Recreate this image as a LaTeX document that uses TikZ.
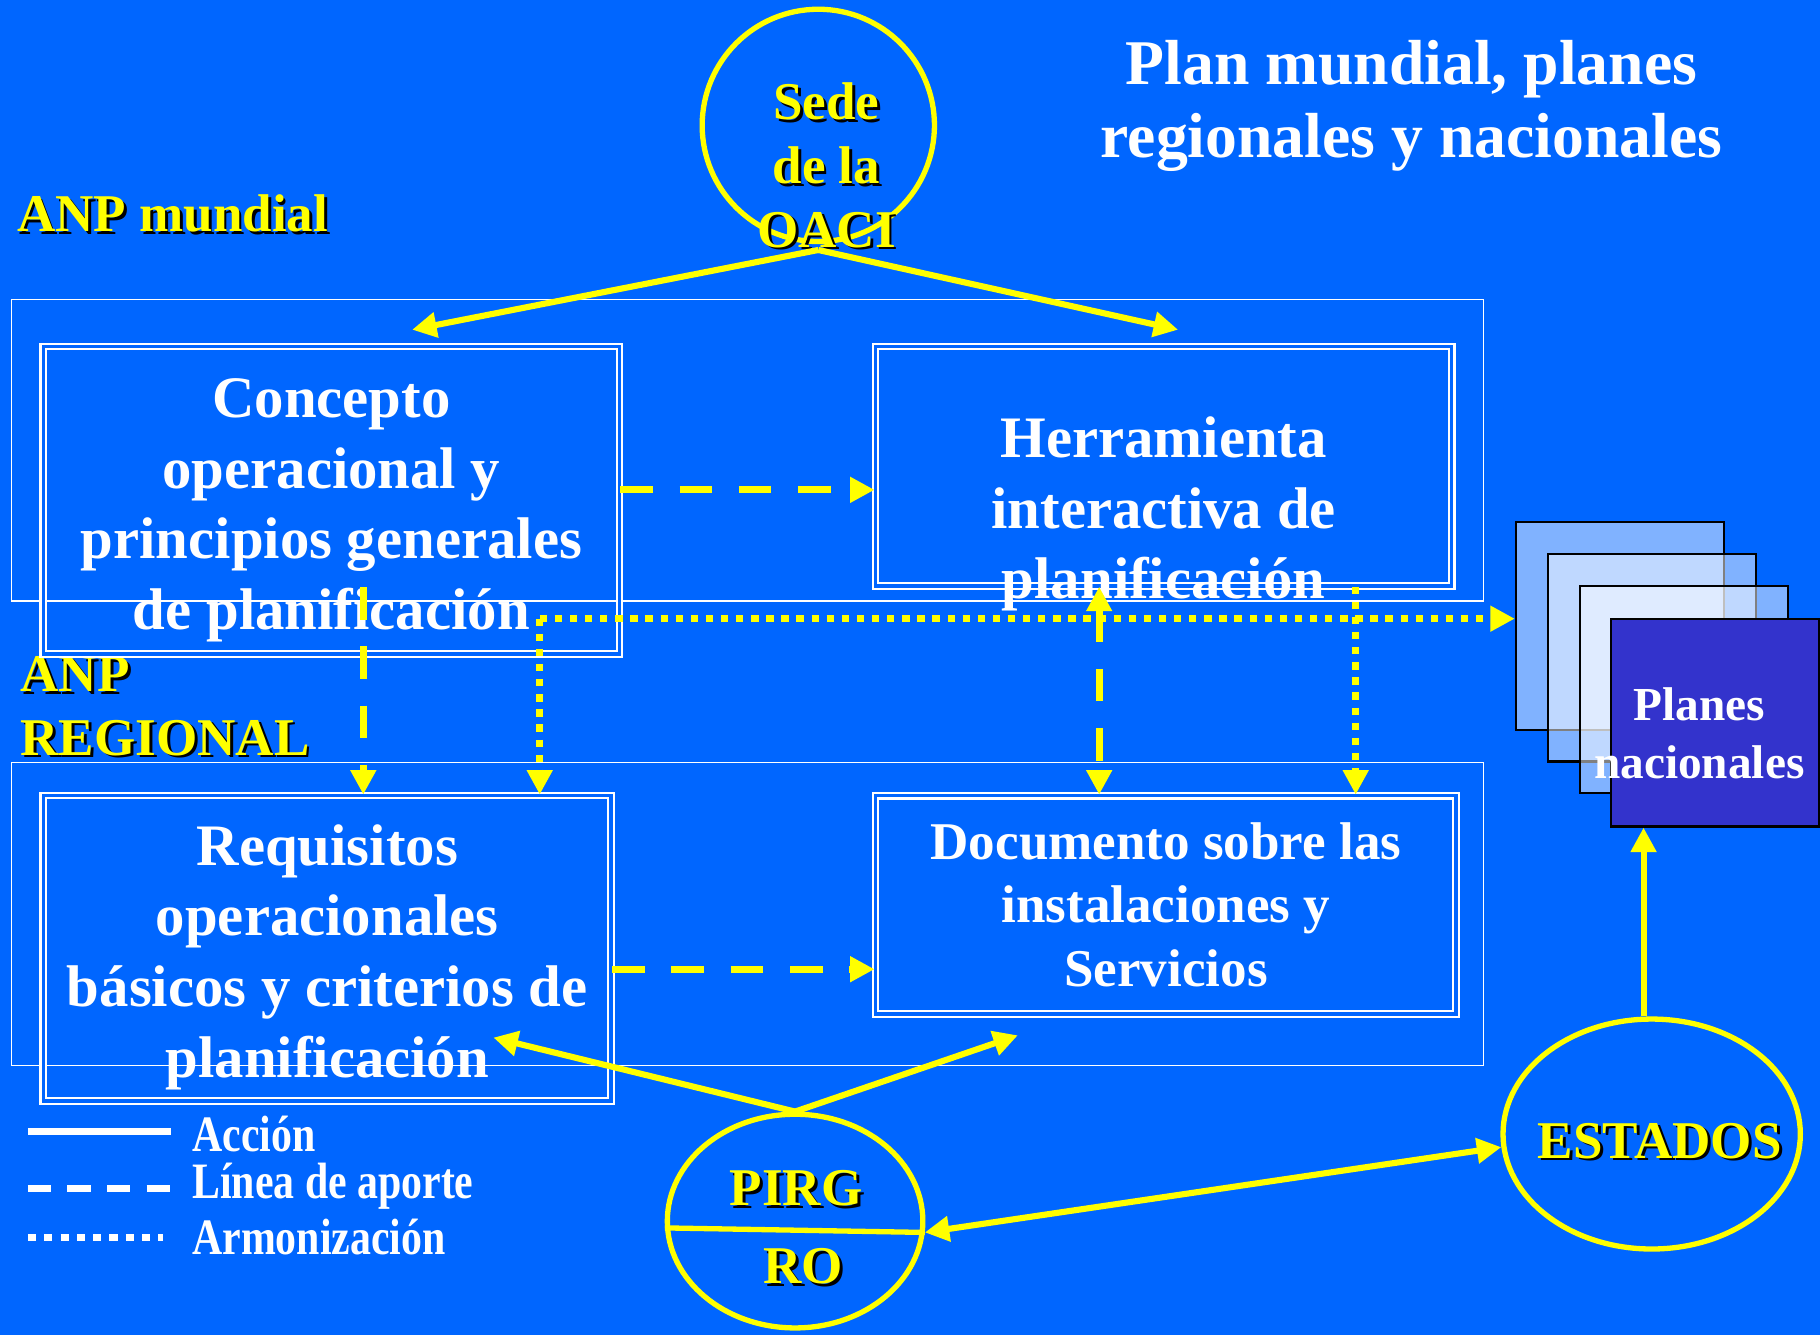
\documentclass[tikz,border=0pt]{standalone}
\usepackage{fontspec}
\setmainfont{Liberation Serif}
\usepackage{graphicx}
\usepackage{tikz}
\usetikzlibrary{positioning,arrows.meta,shapes.geometric,calc}
\definecolor{colorbg}    {RGB}{0  ,102,255}
\definecolor{coloryellow}{RGB}{255,255,0  }
\definecolor{colorplan}  {RGB}{51 ,51 ,204}
\newcommand{\shad}[1]{\makebox[0pt][l]{\kern0.7pt\raisebox{-0.7pt}{\color{black}#1}}#1}

\begin{document}
\begin{tikzpicture}[
    x=0.01cm, y=-0.01cm,
    >={Triangle[length=6pt,width=6pt]},
    boxtxt/.style={text=white,font={\fontsize{14.4}{17.3}\selectfont\bfseries},align=center,inner sep=0pt},
    smalltxt/.style={text=white,font={\fontsize{13}{15.6}\selectfont\bfseries},align=center,inner sep=0pt},
    ytxt/.style={text=coloryellow,font={\fontsize{13}{15.6}\selectfont\bfseries},inner sep=0pt},
    legtxt/.style={text=white,font={\fontsize{12.5}{15}\selectfont\bfseries},anchor=west,inner sep=0pt},
    dblbox/.style={draw=white,double=colorbg,double distance=0.9pt,line width=0.5pt,inner sep=0pt},
    ring/.style={draw=coloryellow,line width=1.3pt,inner sep=0pt},
    sheet/.style={draw=black,line width=0.5pt,fill=white,fill opacity=0.5,minimum size=1.79cm,inner sep=0pt},
    outerframe/.style={draw=white,line width=0.4pt},
    actline/.style={draw=coloryellow,line width=1.5pt},
    feedline/.style={draw=coloryellow,line width=1.7pt,dash pattern=on 8pt off 6.5pt},
    harmline/.style={draw=coloryellow,line width=1.7pt,dash pattern=on 1.8pt off 1.9pt},
    legline/.style={draw=white,line width=1.6pt},
]
    \useasboundingbox (0,0) rectangle (1568,1150);
    \fill[colorbg] (0,0) rectangle (1568,1150);

    % Frames
    \draw[outerframe] (10,258) rectangle (1278,518);
    \draw[outerframe] (10,657) rectangle (1278,918);

    % Titles
    \node[text=white,font={\fontsize{15.6}{17.9}\selectfont\bfseries},align=center] (title) at (1216,91.5) {Plan mundial, planes\\regionales y nacionales};
    \node[ytxt,anchor=west] (anpmundial) at (14,185) {\shad{ANP mundial}};
    \node[ytxt,anchor=west,align=left] (anpregional) at (17,609.5) {\shad{ANP}\\\shad{REGIONAL}};

    % Boxes
    \node[dblbox,minimum width=4.96cm,minimum height=2.65cm] (concepto) at (285.5,431) {};
    \node[boxtxt] (conceptotxt) at ([yshift=-0.085cm]concepto.center) {Concepto\\operacional y\\principios generales\\de planificación};
    \node[dblbox,minimum width=4.96cm,minimum height=2.06cm] (herramienta) at (1002.5,401.5) {};
    \node[boxtxt] (herramientatxt) at ([yshift=-0.415cm]herramienta.center) {Herramienta\\interactiva de\\planificación};
    \node[dblbox,minimum width=4.89cm,minimum height=2.63cm] (requisitos) at (282,817) {};
    \node[boxtxt] (requisitostxt) at ([yshift=-0.075cm]requisitos.center) {Requisitos\\operacionales\\básicos y criterios de\\planificación};
    \node[dblbox,smalltxt,minimum width=5cm,minimum height=1.88cm] (documento) at (1004.5,779.5) {Documento sobre las\\instalaciones y\\Servicios};

    % Circles
    \node[ring,circle,minimum size=2cm] (sede) at (705,108) {};
    \node[ytxt,align=center] (sedetxt) at ([xshift=0.07cm,yshift=-0.355cm]sede.center) {\shad{Sede}\\\shad{de la}\\\shad{OACI}};
    \node[ring,ellipse,minimum width=2.2cm,minimum height=1.84cm] (pirg) at (685,1052) {};
    \node[ytxt] (pirgtxt) at ([xshift=0.01cm,yshift=0.27cm]pirg.center) {\shad{PIRG}};
    \node[ytxt] (rotxt) at ([xshift=0.07cm,yshift=-0.4cm]pirg.center) {\shad{RO}};
    \draw[draw=coloryellow,line width=1.3pt] (pirg.183) -- (pirg.-5);
    \node[ring,ellipse,minimum width=2.56cm,minimum height=1.98cm] (estados) at (1423,977) {};
    \node[ytxt] (estadostxt) at ([xshift=0.07cm,yshift=-0.07cm]estados.center) {\shad{ESTADOS}};

    % Plans
    \node[sheet] (plan1) at (1395.5,539) {};
    \node[sheet] (plan2) at (1423,566.5) {};
    \node[sheet] (plan3) at (1450.5,594) {};
    \node[sheet,fill=colorplan,fill opacity=1] (planes) at (1477.5,622.5) {};
    \node[text=white,font={\fontsize{11.6}{14.2}\selectfont\bfseries},align=center,inner sep=0pt] (planestxt) at ([xshift=-0.135cm,yshift=-0.095cm]planes.center) {Planes\\nacionales};

    % Action
    \draw[actline,->] ([yshift=-0.05cm]sede.south) -- ([xshift=0.695cm,yshift=0.135cm]concepto.north);
    \draw[actline,->] ([yshift=-0.05cm]sede.south) -- ([xshift=0.125cm,yshift=0.135cm]herramienta.north);
    \draw[actline,->] (pirg.north) -- ([xshift=1.43cm,yshift=0.555cm]requisitos.south);
    \draw[actline,->] (pirg.north) -- ([xshift=-1.275cm,yshift=-0.175cm]documento.south);
    \draw[actline,<->] (pirg.-5) -- (estados.185);
    \draw[actline,->] ($(estados.north)+(-7,0)$) -- ($(estados.north |- planes.south)+(-7,0)$);

    % Input
    \draw[feedline,->] ($(concepto.east)+(0,-9)$) -- ($(herramienta.west |- concepto.east)+(0,-9)$);
    \draw[feedline,->] ($(requisitos.east)+(0,18)$) -- ($(documento.west |- requisitos.east)+(0,18)$);
    \draw[feedline,->] ($(concepto.south)+(27.5,-58.5)$) -- ($(requisitos.north)+(31,0)$);
    \draw[feedline,<->] ($(herramienta.south)+(-55.5,0)$) -- ($(documento.north)+(-57.5,0)$);

    % Harmonization
    \coordinate (armon) at (465,533);
    \draw[harmline,->] (armon) -- (armon -| plan1.west);
    \draw[harmline,->] (armon) -- (armon |- requisitos.north);
    \draw[harmline,->] ($(herramienta.south)+(165.5,0)$) -- ($(documento.north)+(163.5,0)$);

    % Legend
    \node[legtxt] (legaccion) at (165,977)  {\scalebox{0.82}[1]{Acción}};
    \node[legtxt] (legaporte) at (165,1022) {\scalebox{0.82}[1]{Línea de aporte}};
    \node[legtxt] (legarmon)  at (165,1066) {\scalebox{0.82}[1]{Armonización}};
    \draw[legline] ($(legaccion.west)+(-141,-2)$) -- ($(legaccion.west)+(-18,-2)$);
    \draw[legline,dash pattern=on 5.7pt off 4pt] ($(legaporte.west)+(-141,2)$) -- ($(legaporte.west)+(-18,2)$);
    \draw[legline,dash pattern=on 2pt off 2pt] ($(legarmon.west)+(-141,0)$) -- ($(legarmon.west)+(-25,0)$);

\end{tikzpicture}
\end{document}
